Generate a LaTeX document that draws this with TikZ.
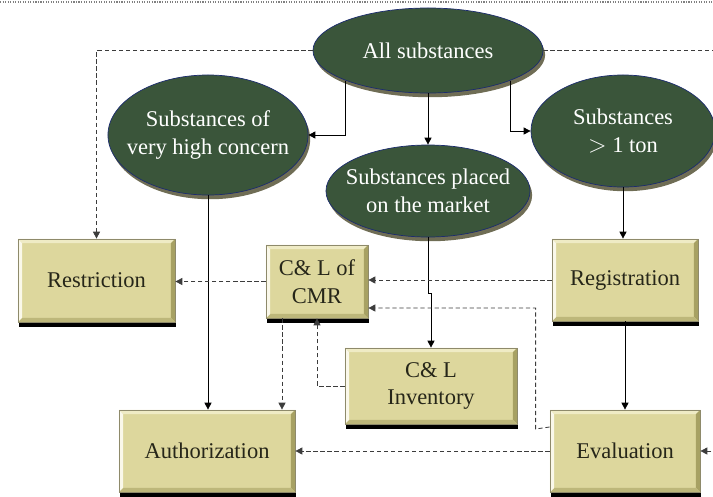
\documentclass[tikz,border=0pt]{standalone}
\usepackage{fontspec}
\setmainfont{Liberation Serif}
\usepackage{xcolor}
\usepackage{tikz}
\usetikzlibrary{shapes.geometric, arrows.meta, calc, shadows}
\definecolor{ellfill}{HTML}{3A553A}
\definecolor{ellline}{HTML}{1C2C6E}
\definecolor{ellshade}{HTML}{6F6D55}
\definecolor{boxfill}{HTML}{DDD79D}
\definecolor{boxline}{HTML}{8E8A6B}
\definecolor{boxhi}{HTML}{EFEBC5}
\definecolor{boxlt}{HTML}{FAF8EA}
\definecolor{boxdk}{HTML}{A7A163}
\definecolor{boxbt}{HTML}{BDB77A}
\definecolor{boxtext}{HTML}{262619}
\definecolor{dashgray}{HTML}{3C3C3C}
\tikzset{
  ell/.style     = {ellipse, draw=ellline, fill=ellfill, inner sep=0pt, line width=0.5pt,
                    drop shadow={shadow xshift=1.5pt, shadow yshift=-3pt, fill=ellshade, opacity=1}},
  elltext/.style = {text=white, align=center, font=\fontsize{16}{19.5}\selectfont},
  bevel/.style   = {path picture={
      \path (path picture bounding box.north west) coordinate (bevA)
            (path picture bounding box.north east) coordinate (bevB)
            (path picture bounding box.south east) coordinate (bevC)
            (path picture bounding box.south west) coordinate (bevD);
      \fill[boxhi] (bevA) -- (bevB) -- ([shift={(-3pt,-3pt)}]bevB) -- ([shift={(3pt,-3pt)}]bevA) -- cycle;
      \fill[boxdk] (bevB) -- (bevC) -- ([shift={(-3pt,3pt)}]bevC) -- ([shift={(-3pt,-3pt)}]bevB) -- cycle;
      \fill[boxbt] (bevC) -- (bevD) -- ([shift={(3pt,3pt)}]bevD) -- ([shift={(-3pt,3pt)}]bevC) -- cycle;
      \fill[boxlt] (bevD) -- (bevA) -- ([shift={(3pt,-3pt)}]bevA) -- ([shift={(3pt,3pt)}]bevD) -- cycle;
  }},
  box/.style     = {rectangle, draw=boxline, fill=boxfill, inner sep=0pt, line width=0.5pt,
                    align=center, text=boxtext, font=\fontsize{16}{19.5}\selectfont, bevel,
                    drop shadow={shadow xshift=0.5pt, shadow yshift=-3.5pt, fill=black, opacity=1}},
  arrow/.style   = {line width=0.6pt, ->, >={Triangle[length=5pt, width=5pt]}},
  dasharrow/.style = {arrow, draw=dashgray, dash pattern=on 3pt off 2pt},
}

\begin{document}
\begin{tikzpicture}[x=0.025cm, y=-0.025cm]
    \useasboundingbox (0,0) rectangle (713,496);
    \draw[gray, densely dotted, line width=0.8pt] (0,2) -- (713,2);

    %% Substance groups (ellipses)
    \node[ell, minimum width=5.75cm, minimum height=2.125cm] (all)    at (428, 50.5) {};
    \node[ell, minimum width=5cm,    minimum height=3cm]     (svhc)   at (208, 135)  {};
    \node[ell, minimum width=5.1cm,  minimum height=2.3cm]   (market) at (428, 191)  {};
    \node[ell, minimum width=4.6cm,  minimum height=2.8cm]   (ton)    at (623, 131)  {};

    \node[elltext] (alltxt)    at (all)    {All substances};
    \node[elltext] (svhctxt)   at (svhc)   {Substances of\\very high concern};
    \node[elltext] (markettxt) at (market) {Substances placed\\on the market};
    \node[elltext] (tontxt)    at (ton)    {Substances\\$>$ 1 ton};

    %% Process boxes
    \node[box, minimum width=3.925cm, minimum height=2.075cm] (restr) at ( 96.5, 280.5) {Restriction};
    \node[box, minimum width=2.55cm,  minimum height=1.825cm] (cmr)   at (317,   281.5) {C\& L of\\CMR};
    \node[box, minimum width=3.65cm,  minimum height=2.05cm]  (reg)   at (625,   280)   {Registration};
    \node[box, minimum width=4.3cm,   minimum height=1.9cm]   (inv)   at (431,   386)   {C\& L\\Inventory};
    \node[box, minimum width=3.75cm,  minimum height=2.05cm]  (eval)  at (625,   451)   {Evaluation};
    \node[box, minimum width=4.4cm,   minimum height=2.05cm]  (auth)  at (207,   451)   {Authorization};
    \coordinate (offr) at (740, 451);

    %% Solid connectors
    \draw[arrow] (all.200)      |- (svhc.east);
    \draw[arrow] (all.340)      |- (ton.west);
    \draw[arrow] (all.south)    -- (market.north);
    \draw[arrow] (svhc.south)   -- (svhc.south |- auth.north);
    \draw[arrow] (ton.south)    -- (ton.south |- reg.north);
    \draw[arrow] (market.south) -- ++(0,56) -| (inv.north);
    \draw[arrow] (reg.south)    -- (eval.north);

    %% Dashed connectors
    \draw[dasharrow] (all.west) -| (restr.north);
    \draw[dasharrow] (all.east) -| (offr) -- (eval.east);
    \draw[dasharrow] (reg.west) -- (reg.west -| cmr.east);
    \draw[dasharrow] (cmr.west) -- (cmr.west -| restr.east);
    \draw[dasharrow] ($(eval.west)+(0,-24)$) -- ++(-14,2) |- ($(cmr.east)+(0,26.5)$);
    \draw[dasharrow] (eval.west) -- (auth.east);
    \draw[dasharrow] ($(cmr.south)+(-35,0)$) coordinate (cmrout) -- (cmrout |- auth.north);
    \draw[dasharrow] (inv.west) -| (cmr.south);

  \end{tikzpicture}
\end{document}
